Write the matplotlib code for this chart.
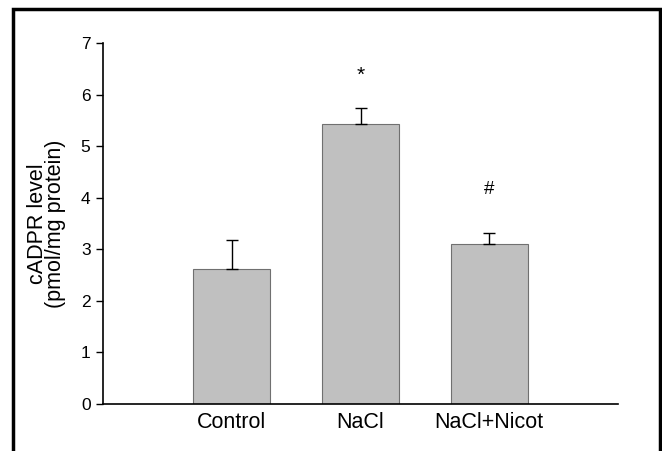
import matplotlib.pyplot as plt
from matplotlib.patches import Rectangle

groups = ['Control', 'NaCl', 'NaCl+Nicot']
means = [2.62, 5.43, 3.10]
errors = [0.56, 0.30, 0.21]
marks = ['', '*', '#']
mark_y = [None, 6.38, 4.15]

plt.rcParams['font.family'] = ['Liberation Sans', 'DejaVu Sans']

fig = plt.figure(figsize=(6.62, 4.51), dpi=100)
ax = fig.add_axes([0.1556, 0.1042, 0.778, 0.8005])

x = range(len(groups))
ax.bar(x, means, width=0.6, color='#c0c0c0', edgecolor='#707070', linewidth=0.8)
ax.errorbar(x, means, yerr=[[0] * len(errors), errors], fmt='none',
            ecolor='black', elinewidth=1, capsize=4.5, capthick=1)

for i, m in enumerate(marks):
    if m:
        ax.text(i, mark_y[i], m, ha='center', va='center',
                fontsize=15 if m == '*' else 13.5)

ax.set_xlim(-1, 3)
ax.set_ylim(0, 7)
ax.set_yticks(range(8))
ax.set_xticks(list(x))
ax.set_xticklabels(groups, fontsize=15.5)
ax.tick_params(axis='x', length=0, pad=6)
ax.tick_params(axis='y', labelsize=12.5, length=5, width=1, direction='out', pad=4)
ax.spines['top'].set_visible(False)
ax.spines['right'].set_visible(False)
ax.spines['left'].set_linewidth(1.2)
ax.spines['bottom'].set_linewidth(1.2)
ax.set_ylabel('cADPR level\n(pmol/mg protein)', fontsize=15.5, linespacing=0.8)
ax.yaxis.set_label_coords(-0.072, 0.5)

# frame round the whole figure
fig.patches.append(Rectangle((13 / 662, -0.05), 647 / 662, 1.05 - 9 / 451,
                             transform=fig.transFigure, fill=False,
                             edgecolor='black', linewidth=2.5))

fig.savefig('out.png', dpi=100)
